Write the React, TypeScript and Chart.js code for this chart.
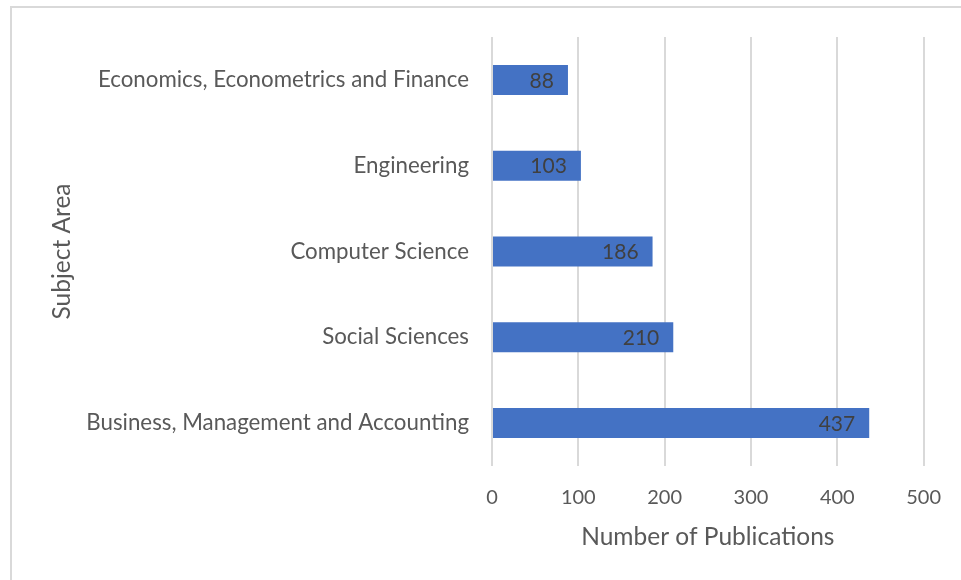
import React, { useEffect, useRef } from "react";
import { Chart, registerables } from "chart.js";

Chart.register(...registerables);

const categories = [
  "Economics, Econometrics and Finance",
  "Engineering",
  "Computer Science",
  "Social Sciences",
  "Business, Management and Accounting",
];
const publications = [88, 103, 186, 210, 437];
const xTicks = [0, 100, 200, 300, 400, 500];

const FONT = "Lato, 'Open Sans', sans-serif";

const dataLabelPlugin = {
  id: "dataLabels",
  afterDatasetsDraw(chart: any) {
    const { ctx } = chart;
    const meta = chart.getDatasetMeta(0);
    ctx.save();
    ctx.font = `21px ${FONT}`;
    ctx.fillStyle = "#404040";
    ctx.textAlign = "right";
    ctx.textBaseline = "middle";
    meta.data.forEach((el: any, i: number) => {
      ctx.fillText(String(publications[i]), el.x - 14, el.y + 1);
    });
    ctx.restore();
  },
};

export default function App() {
  const ref = useRef<HTMLCanvasElement>(null);
  useEffect(() => {
    document.body.style.margin = "0";
    const chart = new Chart(ref.current!, {
      type: "bar",
      data: {
        labels: categories,
        datasets: [
          {
            data: publications,
            backgroundColor: "#4472C4",
            borderWidth: 0,
            categoryPercentage: 1,
            barPercentage: 0.35,
          },
        ],
      },
      options: {
        indexAxis: "y",
        animation: false,
        responsive: false,
        devicePixelRatio: 1,
        layout: { padding: { top: 37, right: 36, left: 0, bottom: 0 } },
        plugins: { legend: { display: false }, tooltip: { enabled: false } },
        scales: {
          x: {
            min: 0,
            max: 500,
            afterBuildTicks(scale: any) {
              scale.ticks = xTicks.map((v) => ({ value: v }));
            },
            afterFit(scale: any) {
              scale.height = 114;
            },
            grid: { color: "#D9D9D9", lineWidth: 2, drawTicks: false },
            border: { display: false },
            ticks: {
              color: "#595959",
              font: { family: FONT, size: 20 },
              padding: 20,
            },
            title: {
              display: true,
              text: "Number of Publications",
              color: "#595959",
              font: { family: FONT, size: 24.5 },
              padding: { top: 0, bottom: 28 },
            },
          },
          y: {
            afterFit(scale: any) {
              scale.width = 492;
            },
            grid: { display: false, drawTicks: false },
            border: { display: false },
            ticks: {
              color: "#595959",
              font: { family: FONT, size: 22.3 },
              padding: 23,
            },
            title: {
              display: true,
              text: "Subject Area",
              color: "#595959",
              font: { family: FONT, size: 24.5 },
              padding: { top: 47, bottom: 0 },
            },
          },
        },
      },
      plugins: [dataLabelPlugin],
    });
    return () => chart.destroy();
  }, []);
  return (
    <div style={{ position: "fixed", left: 0, top: 0, width: 961, height: 580, background: "#fff" }}>
      <div
        style={{
          position: "absolute",
          left: 10,
          top: 6,
          width: 1000,
          height: 600,
          borderLeft: "2px solid #D9D9D9",
          borderTop: "2px solid #D9D9D9",
        }}
      />
      <canvas
        ref={ref}
        width={961}
        height={580}
        style={{ position: "absolute", left: 0, top: 0, width: 961, height: 580 }}
      />
    </div>
  );
}
